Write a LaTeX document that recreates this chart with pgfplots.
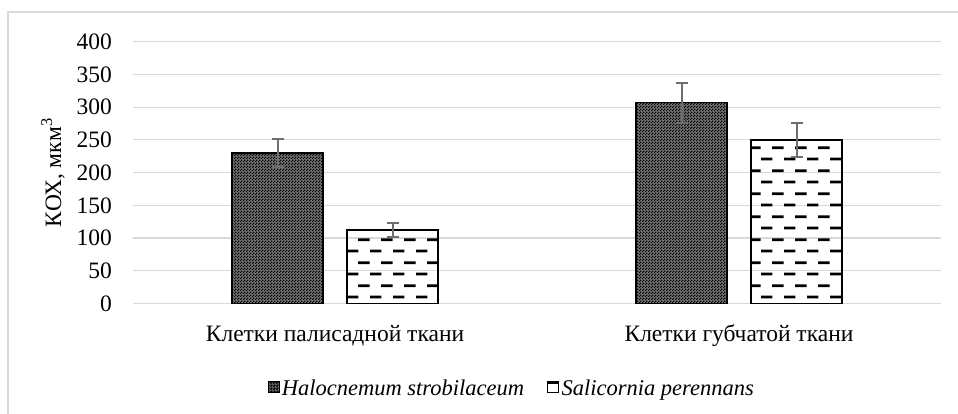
\documentclass[border=0pt]{standalone}
\usepackage{fontspec}
\setmainfont{Liberation Serif}
\usepackage{pgfplots}
\pgfplotsset{compat=1.18}
\usetikzlibrary{patterns}
\definecolor{gridc}{RGB}{217,217,217}
\definecolor{errc}{RGB}{110,110,110}
\definecolor{checkbg}{RGB}{115,115,115}
\pgfdeclarepatternformonly{finecheck}{\pgfpointorigin}{\pgfqpoint{3pt}{3pt}}{\pgfqpoint{3pt}{3pt}}{%
  \pgfpathrectangle{\pgfpointorigin}{\pgfqpoint{1.6pt}{1.6pt}}%
  \pgfpathrectangle{\pgfqpoint{1.5pt}{1.5pt}}{\pgfqpoint{1.6pt}{1.6pt}}%
  \pgfusepath{fill}}
\pgfdeclarepatternformonly{dashrows}{\pgfpointorigin}{\pgfqpoint{23.2pt}{22.7pt}}{\pgfqpoint{23.2pt}{22.7pt}}{%
  \pgfpathrectangle{\pgfqpoint{0pt}{1.6pt}}{\pgfqpoint{11.8pt}{2.8pt}}%
  \pgfpathrectangle{\pgfqpoint{11.6pt}{12.95pt}}{\pgfqpoint{11.8pt}{2.8pt}}%
  \pgfusepath{fill}}
\pgfplotstableread{
x y e
0 230 22
1 307 30.5
}\halo
\pgfplotstableread{
x y e
0 112 11
1 250 25.5
}\sali
\begin{document}
\begin{tikzpicture}
\begin{axis}[
  at={(133pt,109.5pt)}, anchor=south west,
  scale only axis, width=808pt, height=261.8pt,
  ybar=24pt, bar width=91pt,
  xmin=-0.5, xmax=1.5, ymin=0, ymax=400,
  xtick={0,1}, xticklabels={Клетки палисадной ткани, Клетки губчатой ткани},
  ytick={0,50,...,400},
  major tick length=0pt,
  axis line style={draw=none},
  ymajorgrids, major grid style={color=gridc, line width=1.2pt},
  /pgf/number format/assume math mode=true,
  tick label style={font=\fontsize{23.5}{27}\selectfont, inner sep=0pt},
  yticklabel style={xshift=-21pt},
  xticklabel style={anchor=base, yshift=-37.5pt},
  ylabel={КОХ, мкм\textsuperscript{3}},
  ylabel style={font=\fontsize{23.5}{27}\selectfont, at={(axis description cs:-0.099,0.5)}, anchor=center},
  legend columns=2,
  legend style={at={(axis description cs:0.469,-0.3228)}, anchor=center, draw=none,
    font=\fontsize{22.5}{26}\itshape\selectfont,
    /tikz/every even column/.append style={column sep=20pt},
    nodes={inner sep=2pt}},
]
\addplot[draw=black, line width=1.8pt, fill=checkbg, postaction={pattern=finecheck, pattern color=black},
  legend image code/.code={\draw[black, line width=0.8pt, fill=checkbg, postaction={pattern=finecheck, pattern color=black}] (0pt,-4.5pt) rectangle (11pt,6.5pt);},
  error bars/.cd, y dir=both, y explicit,
  error bar style={color=errc, line width=2pt},
  error mark options={rotate=90, mark size=6pt, line width=2pt, color=errc},
  ]
  table[x=x, y=y, y error=e] {\halo};
\addlegendentry{Halocnemum strobilaceum}
\addplot[draw=black, line width=1.8pt, pattern=dashrows, pattern color=black,
  legend image code/.code={\draw[black, line width=1.2pt, fill=white] (0pt,-4.5pt) rectangle (11pt,6.5pt); \draw[black, line width=2.4pt] (0pt,5.5pt) -- (11pt,5.5pt);},
  error bars/.cd, y dir=both, y explicit,
  error bar style={color=errc, line width=2pt},
  error mark options={rotate=90, mark size=6pt, line width=2pt, color=errc},
  ]
  table[x=x, y=y, y error=e] {\sali};
\addlegendentry{Salicornia perennans}
\end{axis}
\draw[color=gridc, line width=1.3pt] (8pt,-2pt) -- (8pt,401pt) -- (960pt,401pt);
\pgfresetboundingbox
\path (0pt,0pt) rectangle (958pt,413pt);
\end{tikzpicture}
\end{document}
